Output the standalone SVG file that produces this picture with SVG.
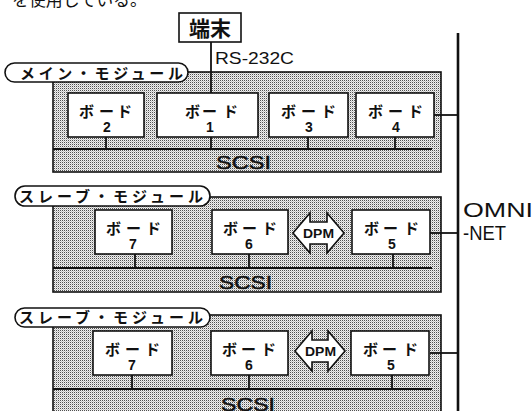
<svg xmlns="http://www.w3.org/2000/svg" width="532" height="411" viewBox="0 0 532 411">
<defs>
<pattern id="dots" width="2" height="2" patternUnits="userSpaceOnUse">
<rect width="2" height="2" fill="#f0f0f0"/>
<rect width="1" height="1" fill="#505050"/>
<rect x="1" y="1" width="1" height="1" fill="#c4c4c4"/>
</pattern>
<style>
.panel{fill:url(#dots);stroke:#111;stroke-width:1.6}
.pill{fill:#fff;stroke:#111;stroke-width:1.6}
.board{fill:#fff;stroke:#111;stroke-width:1.6}
.ln{stroke:#111;stroke-width:1.8;fill:none}
.jp{font-family:"Noto Sans CJK JP","Noto Sans CJK SC",sans-serif;fill:#111}
.kana{font-family:"Noto Sans CJK JP","Noto Sans CJK SC",sans-serif;font-size:15px;font-weight:700;fill:#111}
.num{font-family:"Liberation Sans",Arial,sans-serif;font-size:14px;font-weight:700;fill:#111;text-anchor:middle}
.lat{font-family:"Liberation Sans",Arial,sans-serif;fill:#111}
.scsi{font-family:"Liberation Sans",Arial,sans-serif;font-size:19px;fill:#111;stroke:#111;stroke-width:0.5}
.dpm{fill:#fff;stroke:#111;stroke-width:1.6}
.dpmt{font-family:"Liberation Sans",Arial,sans-serif;font-size:12px;font-weight:700;fill:#111}
</style>
</defs>
<rect width="532" height="411" fill="#fff"/>

<text class="jp" x="12" y="6" font-size="17" textLength="135" lengthAdjust="spacingAndGlyphs">を使用している。</text>

<g id="panels">
<rect id="main-panel" class="panel" x="53" y="72" width="388" height="100"/>
<rect id="slave1-panel" class="panel" x="53" y="197" width="388" height="95"/>
<rect id="slave2-panel" class="panel" x="53" y="315" width="388" height="110"/>
</g>

<g id="connectors">
<line class="ln" x1="458" y1="33" x2="458" y2="411" style="stroke-width:2.6"/>
<line class="ln" x1="211" y1="42" x2="211" y2="93"/>
<line class="ln" x1="53" y1="149" x2="432" y2="149"/>
<line class="ln" x1="106" y1="137" x2="106" y2="149"/>
<line class="ln" x1="211" y1="137" x2="211" y2="149"/>
<line class="ln" x1="308" y1="137" x2="308" y2="149"/>
<line class="ln" x1="395" y1="137" x2="395" y2="149"/>
<line class="ln" x1="434" y1="115" x2="458" y2="115"/>
<line class="ln" x1="53" y1="268" x2="432" y2="268"/>
<line class="ln" x1="135" y1="254" x2="135" y2="268"/>
<line class="ln" x1="249" y1="254" x2="249" y2="268"/>
<line class="ln" x1="393" y1="254" x2="393" y2="268"/>
<line class="ln" x1="430" y1="233" x2="458" y2="233"/>
<line class="ln" x1="53" y1="389" x2="432" y2="389"/>
<line class="ln" x1="132" y1="375" x2="132" y2="389"/>
<line class="ln" x1="249" y1="375" x2="249" y2="389"/>
<line class="ln" x1="392" y1="375" x2="392" y2="389"/>
<line class="ln" x1="430" y1="353" x2="458" y2="353"/>
</g>

<g id="terminal">
<rect class="board" x="179" y="13" width="62" height="29"/>
<text class="jp" x="210" y="36" font-size="21" font-weight="700" text-anchor="middle">端末</text>
</g>
<text id="rs232c" class="lat" x="215" y="64" font-size="17" textLength="79" lengthAdjust="spacingAndGlyphs">RS-232C</text>

<g id="main-label">
<rect class="pill" x="5" y="63" width="183" height="19" rx="9.5"/>
<text class="jp" x="20" y="79" font-size="15" font-weight="700" textLength="163" lengthAdjust="spacing">メイン・モジュール</text>
</g>
<g id="slave1-label">
<rect class="pill" x="15" y="186" width="195" height="20" rx="10"/>
<text class="jp" x="19" y="202" font-size="15" font-weight="700" textLength="184" lengthAdjust="spacing">スレーブ・モジュール</text>
</g>
<g id="slave2-label">
<rect class="pill" x="15" y="308" width="195" height="19" rx="9.5"/>
<text class="jp" x="19" y="323" font-size="15" font-weight="700" textLength="184" lengthAdjust="spacing">スレーブ・モジュール</text>
</g>

<g id="board2">
<rect class="board" x="68" y="93" width="76" height="44"/>
<text class="kana" x="79" y="117">ボ</text><text class="kana" x="99" y="117">ー</text><text class="kana" x="117" y="117">ド</text>
<text class="num" x="107" y="132">2</text>
</g>
<g id="board1">
<rect class="board" x="157" y="93" width="101" height="44"/>
<text class="kana" x="185" y="117">ボ</text><text class="kana" x="202" y="117">ー</text><text class="kana" x="223" y="117">ド</text>
<text class="num" x="210" y="132">1</text>
</g>
<g id="board3">
<rect class="board" x="269" y="93" width="79" height="44"/>
<text class="kana" x="281" y="117">ボ</text><text class="kana" x="301" y="117">ー</text><text class="kana" x="321" y="117">ド</text>
<text class="num" x="309" y="132">3</text>
</g>
<g id="board4">
<rect class="board" x="356" y="93" width="78" height="44"/>
<text class="kana" x="368" y="117">ボ</text><text class="kana" x="388" y="117">ー</text><text class="kana" x="408" y="117">ド</text>
<text class="num" x="396" y="132">4</text>
</g>
<text class="scsi" x="216" y="169" textLength="55" lengthAdjust="spacingAndGlyphs">SCSI</text>

<g id="s1-board7">
<rect class="board" x="95" y="210" width="77" height="44"/>
<text class="kana" x="106" y="234">ボ</text><text class="kana" x="126" y="234">ー</text><text class="kana" x="146" y="234">ド</text>
<text class="num" x="133" y="249">7</text>
</g>
<g id="s1-board6">
<rect class="board" x="212" y="210" width="76" height="44"/>
<text class="kana" x="223" y="234">ボ</text><text class="kana" x="242" y="234">ー</text><text class="kana" x="262" y="234">ド</text>
<text class="num" x="249" y="249">6</text>
</g>
<g id="s1-dpm">
<path class="dpm" d="M293,233 L310,213 L310,222 L327,222 L327,213 L344,233 L327,253 L327,244 L310,244 L310,253 Z"/>
<text class="dpmt" x="303" y="237.5" textLength="31" lengthAdjust="spacingAndGlyphs">DPM</text>
</g>
<g id="s1-board5">
<rect class="board" x="352" y="210" width="78" height="44"/>
<text class="kana" x="364" y="234">ボ</text><text class="kana" x="383" y="234">ー</text><text class="kana" x="404" y="234">ド</text>
<text class="num" x="392" y="249">5</text>
</g>
<text class="scsi" x="219" y="289" textLength="53" lengthAdjust="spacingAndGlyphs">SCSI</text>

<g id="s2-board7">
<rect class="board" x="93" y="331" width="79" height="44"/>
<text class="kana" x="105" y="355">ボ</text><text class="kana" x="125" y="355">ー</text><text class="kana" x="145" y="355">ド</text>
<text class="num" x="132" y="370">7</text>
</g>
<g id="s2-board6">
<rect class="board" x="211" y="331" width="77" height="44"/>
<text class="kana" x="222" y="355">ボ</text><text class="kana" x="241" y="355">ー</text><text class="kana" x="261" y="355">ド</text>
<text class="num" x="249" y="370">6</text>
</g>
<g id="s2-dpm">
<path class="dpm" d="M295,351 L312,331 L312,340 L328,340 L328,331 L345,351 L328,371 L328,362 L312,362 L312,371 Z"/>
<text class="dpmt" x="305" y="355.5" textLength="31" lengthAdjust="spacingAndGlyphs">DPM</text>
</g>
<g id="s2-board5">
<rect class="board" x="351" y="331" width="78" height="44"/>
<text class="kana" x="363" y="355">ボ</text><text class="kana" x="382" y="355">ー</text><text class="kana" x="403" y="355">ド</text>
<text class="num" x="391" y="370">5</text>
</g>
<text class="scsi" x="221" y="411" textLength="54" lengthAdjust="spacingAndGlyphs">SCSI</text>

<g id="omninet-label">
<text class="lat" x="463" y="217" font-size="20" textLength="70" lengthAdjust="spacingAndGlyphs">OMNI</text>
<text class="lat" x="463" y="240" font-size="20" textLength="43" lengthAdjust="spacingAndGlyphs">-NET</text>
</g>
</svg>
